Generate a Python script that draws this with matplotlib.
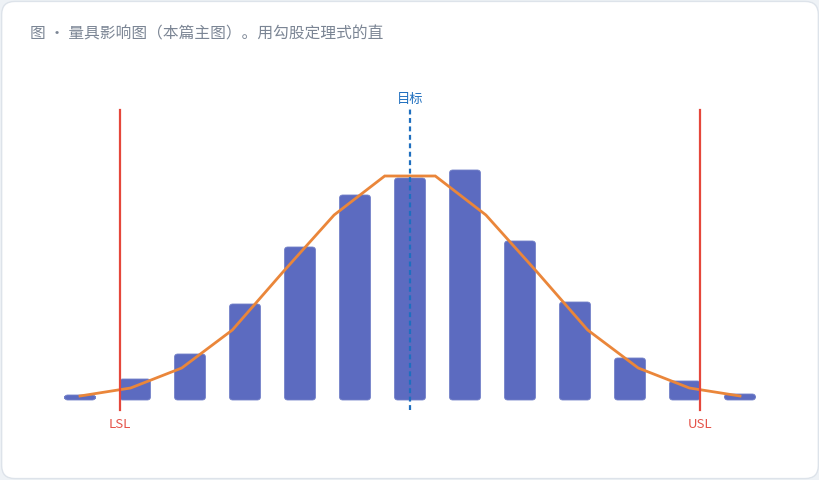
import matplotlib
matplotlib.use("Agg")
import matplotlib.pyplot as plt
from matplotlib.patches import FancyBboxPatch

plt.rcParams['font.family'] = ['Noto Sans CJK SC', 'DejaVu Sans']

# DATOS

bar_pos = [0, 1, 2, 3, 4, 5, 6, 7, 8, 9, 10, 11, 12]
bar_vals = [5, 21, 46, 96, 153, 205, 222, 230, 159, 98, 42, 19, 6]

curve_x = [0, 0.92, 1.85, 2.77, 3.69, 4.62, 5.54, 6.46, 7.38, 8.31, 9.23, 10.15, 11.08, 12]
curve_y = [4, 12, 32, 70, 128, 185, 224, 224, 185, 128, 70, 32, 12, 4]

lsl = 0.73
usl = 11.27
target = 6.0

title = "图 · 量具影响图（本篇主图）。用勾股定理式的直"

# FIGURA

fig = plt.figure(figsize=(8.2, 4.8), dpi=100)
fig.patch.set_facecolor('#eef2f6')
card = FancyBboxPatch((0.002, 0.003), 0.996, 0.994,
                      boxstyle="round,pad=0,rounding_size=0.016",
                      transform=fig.transFigure, facecolor='white',
                      edgecolor='#dde3ea', linewidth=1.0,
                      mutation_aspect=820 / 480, zorder=-5)
fig.patches.append(card)

ax = fig.add_axes([0, 0, 1, 1])
ax.set_facecolor('none')
ax.set_xlim(-80 / 55, 740 / 55)
ax.set_ylim(-80, 400)
ax.axis('off')

# barras redondeadas
w = 31 / 55
for x, v in zip(bar_pos, bar_vals):
    ax.add_patch(FancyBboxPatch((x - w / 2, 0), w, v,
                                boxstyle="round,pad=0,rounding_size=0.06",
                                mutation_aspect=55,
                                facecolor='#5c6bc0', edgecolor='#7482c9',
                                linewidth=0.6, zorder=2))

# curva
ax.plot(curve_x, curve_y, color='#ea863a', linewidth=2.0, zorder=3,
        solid_joinstyle='miter')

# limites
for xv, name in [(lsl, 'LSL'), (usl, 'USL')]:
    ax.plot([xv, xv], [-10, 290], color='#e5473b', linewidth=1.6, zorder=4)
    ax.text(xv, -25, name, color='#e5544a', fontsize=9.5,
            ha='center', va='center')

ax.plot([target, target], [-10, 292], color='#1f6fbf', linewidth=1.6,
        linestyle=(0, (2.2, 1.6)), zorder=4)
ax.text(target, 301, "目标", color='#1f6fbf', fontsize=9.5,
        ha='center', va='center')

fig.text(30 / 820, 1 - 34 / 480, title, color='#7b8594', fontsize=11.3,
         ha='left', va='center')

fig.savefig('out.png', dpi=100, facecolor=fig.get_facecolor())
